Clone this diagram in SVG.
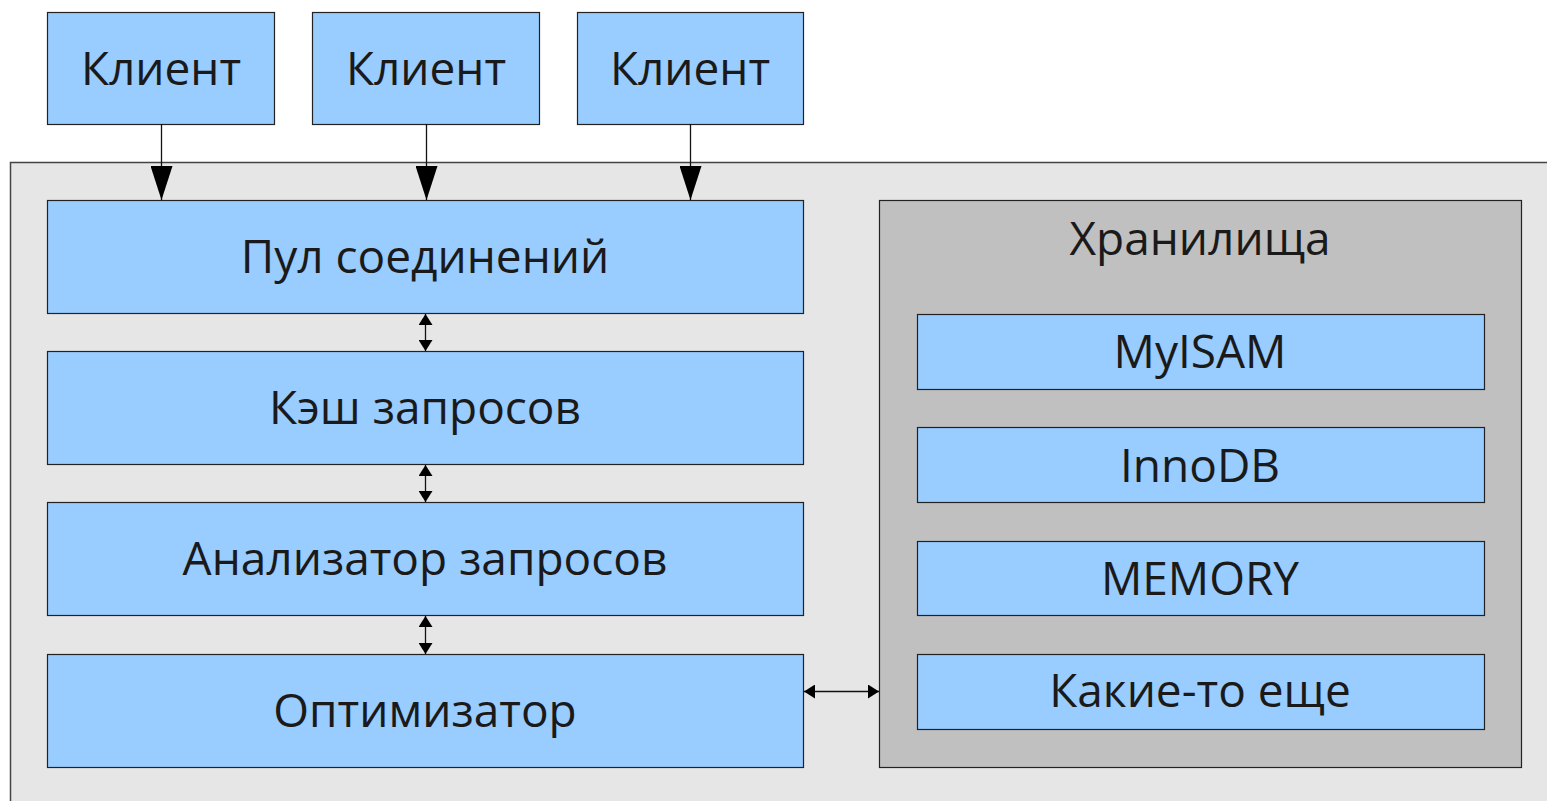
<svg xmlns="http://www.w3.org/2000/svg" width="1547" height="801" viewBox="0 0 1547 801">
  <style>
    .node { fill: #99ccff; stroke: #222; stroke-width: 1.2; }
    .server { fill: #e6e6e6; stroke: #444; stroke-width: 1.5; }
    .store { fill: #c0c0c0; stroke: #222; stroke-width: 1.2; }
    .label { font-family: "Open Sans", "Noto Sans", "DejaVu Sans", sans-serif; font-size: 46px; fill: #1a1a1a; text-anchor: middle; }
    .edge { stroke: #111; stroke-width: 1.3; fill: none; }
  </style>
  <defs>
    <!-- arrowheads drawn along +x so orient="auto" turns them with the line -->
    <marker id="bigHead" viewBox="0 0 34 22" refX="34" refY="11" markerWidth="34" markerHeight="22" markerUnits="userSpaceOnUse" orient="auto-start-reverse">
      <path d="M0,0 L34,11 L0,22 Z" fill="#000"/>
    </marker>
    <marker id="smallHead" viewBox="0 0 11 14" refX="11" refY="7" markerWidth="11" markerHeight="14" markerUnits="userSpaceOnUse" orient="auto-start-reverse">
      <path d="M0,0 L11,7 L0,14 Z" fill="#000"/>
    </marker>
  </defs>

  <rect width="1547" height="801" fill="#ffffff"/>

  <!-- server area -->
  <g id="server">
    <rect class="server" x="10.5" y="162.5" width="1560" height="660"/>
  </g>

  <!-- clients -->
  <g id="client1">
    <rect class="node" x="47.5" y="12.5" width="227" height="112"/>
    <text class="label" x="161" y="85">Клиент</text>
  </g>
  <g id="client2">
    <rect class="node" x="312.5" y="12.5" width="227" height="112"/>
    <text class="label" x="426" y="85">Клиент</text>
  </g>
  <g id="client3">
    <rect class="node" x="577.5" y="12.5" width="226" height="112"/>
    <text class="label" x="690" y="85">Клиент</text>
  </g>

  <!-- server layers -->
  <g id="pool">
    <rect class="node" x="47.5" y="200.5" width="756" height="113"/>
    <text class="label" x="425" y="273">Пул соединений</text>
  </g>
  <g id="cache">
    <rect class="node" x="47.5" y="351.5" width="756" height="113"/>
    <text class="label" x="425" y="424">Кэш запросов</text>
  </g>
  <g id="parser">
    <rect class="node" x="47.5" y="502.5" width="756" height="113"/>
    <text class="label" x="425" y="575">Анализатор запросов</text>
  </g>
  <g id="optimizer">
    <rect class="node" x="47.5" y="654.5" width="756" height="113"/>
    <text class="label" x="425" y="727">Оптимизатор</text>
  </g>

  <!-- storage engines -->
  <g id="storage">
    <rect class="store" x="879.5" y="200.5" width="642" height="567"/>
    <text class="label" x="1200" y="255">Хранилища</text>
  </g>
  <g id="myisam">
    <rect class="node" x="917.5" y="314.5" width="567" height="75"/>
    <text class="label" x="1200" y="368">MyISAM</text>
  </g>
  <g id="innodb">
    <rect class="node" x="917.5" y="427.5" width="567" height="75"/>
    <text class="label" x="1200" y="482">InnoDB</text>
  </g>
  <g id="memory">
    <rect class="node" x="917.5" y="541.5" width="567" height="74"/>
    <text class="label" x="1200" y="595">MEMORY</text>
  </g>
  <g id="other">
    <rect class="node" x="917.5" y="654.5" width="567" height="75"/>
    <text class="label" x="1200" y="707">Какие-то еще</text>
  </g>

  <!-- connectors -->
  <g id="connectors">
    <line class="edge" x1="161.5" y1="124" x2="161.5" y2="200" marker-end="url(#bigHead)"/>
    <line class="edge" x1="426.5" y1="124" x2="426.5" y2="200" marker-end="url(#bigHead)"/>
    <line class="edge" x1="690.5" y1="124" x2="690.5" y2="200" marker-end="url(#bigHead)"/>

    <line class="edge" x1="425.5" y1="314" x2="425.5" y2="351" marker-start="url(#smallHead)" marker-end="url(#smallHead)"/>
    <line class="edge" x1="425.5" y1="465" x2="425.5" y2="502" marker-start="url(#smallHead)" marker-end="url(#smallHead)"/>
    <line class="edge" x1="425.5" y1="616" x2="425.5" y2="654" marker-start="url(#smallHead)" marker-end="url(#smallHead)"/>

    <line class="edge" x1="804" y1="691.5" x2="879" y2="691.5" marker-start="url(#smallHead)" marker-end="url(#smallHead)"/>
  </g>
</svg>
